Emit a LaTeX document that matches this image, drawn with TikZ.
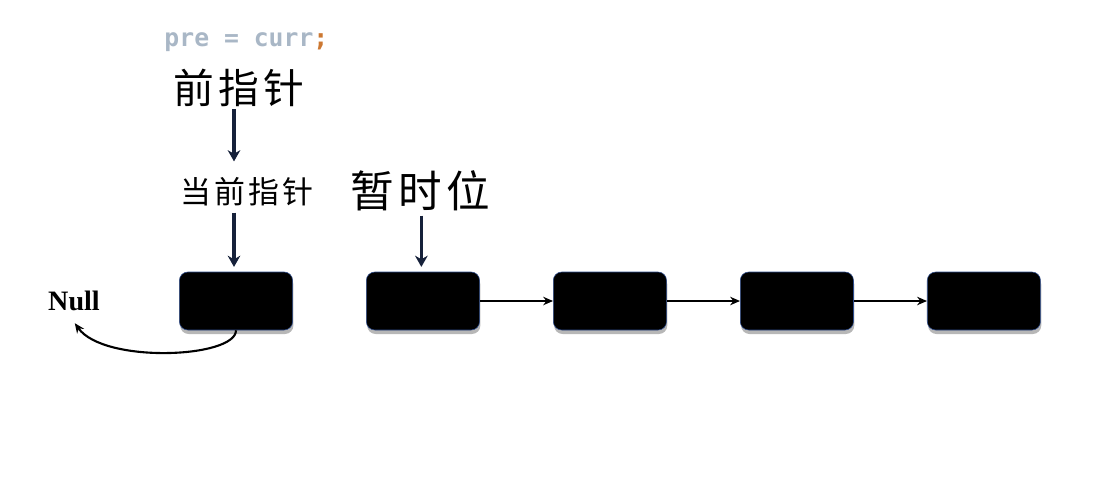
\documentclass[tikz,border=0pt]{standalone}
\usepackage{fontspec}
\usepackage{tikz}
\usetikzlibrary{arrows.meta,positioning,shadows,calc}
\newfontfamily\cjkfont{Noto Sans CJK SC}[LetterSpace=10]
\newfontfamily\codefont{DejaVu Sans Mono}
\newfontfamily\timesfont{Liberation Serif}
\definecolor{codegrey}{HTML}{A9B7C6}
\definecolor{codeorange}{HTML}{CC7832}
\definecolor{ptrnavy}{HTML}{16213A}
\definecolor{nodeblue}{HTML}{2E4C8C}

\begin{document}
\begin{tikzpicture}[
        listnode/.style={draw=nodeblue, thin, fill=black, rounded corners=6pt, minimum width=2.83cm, minimum height=1.45cm,
            drop shadow={shadow xshift=0.02cm, shadow yshift=-0.1cm, opacity=0.4, fill=black!70}},
        ptrlabel/.style={inner sep=0pt, font=\cjkfont},
        ptrarrow/.style={-{Stealth[length=8pt, width=9pt]}, line width=2.4pt, ptrnavy},
        nextarrow/.style={-{Stealth[length=7pt, width=6pt]}, line width=1.3pt, black}
    ]
    \useasboundingbox (0,0) rectangle (27.45,-12.575);
    % Liste
    \node[listnode] (cur) at (5.9,-7.525) {};
    \node[listnode, right=1.83cm of cur] (tmp) {};
    \node[listnode, right=1.83cm of tmp] (n3) {};
    \node[listnode, right=1.83cm of n3] (n4) {};
    \node[listnode, right=1.83cm of n4] (n5) {};
    \node[inner sep=0pt, font=\timesfont\bfseries\fontsize{20}{20}\selectfont] (null) at (1.85,-7.525) {Null};
    % Zeiger
    \node[font=\codefont\bfseries\fontsize{17.6}{17.6}\selectfont, inner sep=0pt] (code) at (6.16,-1.05)
        {\textcolor{codegrey}{pre = curr}\textcolor{codeorange}{;}};
    \node[ptrlabel, font=\cjkfont\fontsize{29}{29}\selectfont] (pre) at (5.98,-2.2) {前指针};
    \node[ptrlabel, font=\cjkfont\fontsize{22}{22}\selectfont] (curlab) at (6.18,-4.8) {当前指针};
    \node[ptrlabel, font=\cjkfont\fontsize{31}{31}\selectfont] (tmplab) at (10.5,-4.78) {暂时位};
    % Pfeile
    \draw[ptrarrow] ($(pre.south -| cur)+(-0.05,-0.05)$) -- ($(curlab.north -| cur)+(-0.05,0.4)$);
    \draw[ptrarrow] ($(curlab.south -| cur)+(-0.05,-0.15)$) -- ($(cur.north)+(-0.05,0.12)$);
    \draw[ptrarrow] ($(tmplab.south -| tmp)+(-0.04,-0.1)$) -- ($(tmp.north)+(-0.04,0.12)$);
    \draw[nextarrow] (tmp) -- (n3);
    \draw[nextarrow] (n3) -- (n4);
    \draw[nextarrow] (n4) -- (n5);
    \draw[-{Stealth[length=7pt, width=6pt]}, line width=1.5pt] (cur.south) .. controls (5.9,-8.95) and (2.6,-9.1) .. ($(null.south)+(0.02,-0.3)$);
\end{tikzpicture}
\end{document}
